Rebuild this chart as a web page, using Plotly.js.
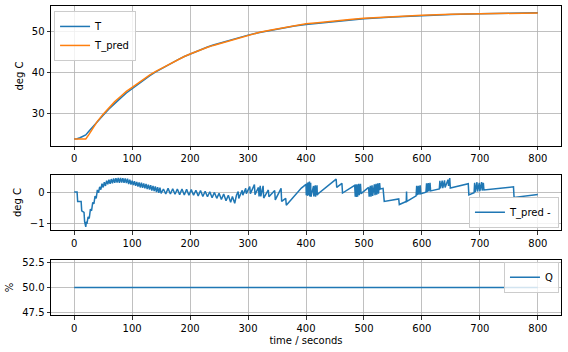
<!DOCTYPE html>
<html><head><meta charset="utf-8">
<script src="https://cdn.plot.ly/plotly-3.0.1.min.js"></script>
<style>html,body{margin:0;padding:0;background:#fff}</style>
</head><body><div id="chart" style="width:568px;height:352px"></div>
<script>
// ---- data ----
const tTop = [0,5,10,15,20,25,30,35,40,50,60,70,80,90,100,110,120,130,140,150,160,170,180,190,200,210,220,230,240,250,260,270,280,290,300,320,340,360,380,400,420,440,460,480,500,550,600,650,700,750,800];
const T = [23.9,23.95,24.2,24.5,24.9,25.7,26.55,27.4,28.2,29.7,31.2,32.6,33.85,35.1,36.2,37.3,38.3,39.3,40.2,41.0,41.8,42.6,43.3,44.0,44.6,45.2,45.8,46.3,46.8,47.2,47.7,48.1,48.5,48.85,49.2,49.85,50.4,50.9,51.4,51.8,52.1,52.4,52.7,52.95,53.2,53.6,53.95,54.2,54.4,54.5,54.65];
const T_pred = [23.9,23.9,23.9,23.9,23.9,24.9,26.0,27.2,28.2,29.95,31.5,33.0,34.25,35.5,36.5,37.55,38.5,39.45,40.3,41.05,41.85,42.6,43.3,44.0,44.6,45.2,45.75,46.25,46.7,47.1,47.55,47.95,48.4,48.85,49.25,49.9,50.45,50.95,51.5,51.95,52.2,52.55,52.85,53.1,53.3,53.7,54.05,54.3,54.45,54.6,54.6];

// residual T_pred - T : [time, value]
const errorSeries = [
 [0,0],[5,0],[6,-0.3],[12,-0.3],[13,-0.6],[17,-0.65],[18,-0.95],[20,-1.12],[21,-0.95],
 [22,-1.02],[24,-0.8],[26,-0.85],[28,-0.55],[30,-0.6],[32,-0.33],[34,-0.38],[36,-0.13],[38,-0.2],[40,0.07],
 [42,-0.02],[44,0.17],[46,0.08],[48,0.27],[50,0.15],[52,0.32],[54,0.2],[56,0.37],[58,0.25],[60,0.4],
 [62,0.27],[64,0.42],[66,0.28],[68,0.44],[70,0.3],[72,0.45],[74,0.31],[76,0.46],[78,0.3],[80,0.46],
 [82,0.31],[84,0.45],[86,0.3],[88,0.44],[90,0.29],[92,0.43],[94,0.26],[96,0.4],[98,0.24],[100,0.37],
 [102,0.23],[104,0.35],[106,0.2],[108,0.33],[110,0.18],[112,0.31],[114,0.15],[116,0.3],[118,0.14],[120,0.28],
 [122,0.12],[124,0.26],[126,0.1],[128,0.24],[130,0.08],[132,0.22],[134,0.05],[136,0.2],[138,0.03],[140,0.18],
 [142,0.0],[144,0.16],[146,-0.02],[148,0.14],[150,-0.04],
 [154,0.1],[158,-0.06],[162,0.12],[166,-0.06],[170,0.11],[174,-0.07],[178,0.1],[182,-0.08],[186,0.1],[190,-0.09],
 [194,0.09],[198,-0.1],[202,0.08],[206,-0.1],[210,0.06],[214,-0.12],[218,0.05],[222,-0.14],[226,0.03],[230,-0.15],
 [234,0.01],[238,-0.18],[242,-0.01],[246,-0.2],[250,-0.04],[254,-0.24],[258,-0.06],[262,-0.28],[266,-0.1],[270,-0.33],
 [273,-0.14],[277,-0.36],[280,-0.1],
 [283,0.02],[284,-0.2],[290,0.06],[291,-0.1],[296,0.12],[297,-0.05],[303,0.18],[304,-0.05],[311,0.24],[312,-0.08],
 [318,0.15],[319,-0.14],[321,0.2],[322,-0.14],[326,0.2],[327,-0.19],[335,0.07],[336,-0.15],[346,0.05],[347,-0.25],
 [357,0.12],[358,-0.3],[365,-0.2],[366,-0.42],[392,0.13],[400,0.25],[400.5,-0.1],[402,0.3],[402.5,-0.12],[404,0.32],
 [404.5,-0.1],[406,0.34],[406.5,-0.14],[408,0.3],[408.5,-0.15],[413,0.2],[413.5,-0.14],[416,0.22],[416.5,-0.15],[419,0.22],
 [419.5,-0.1],[421,-0.05],[452,0.42],[453,0.15],[462,0.28],[463,-0.03],[484,0.22],[485,-0.15],[486,0.24],[487,-0.16],
 [488,0.25],[489,-0.15],[491,0.27],[492,-0.1],[494,0.27],[495,-0.05],[508,0.15],[509,-0.15],[511,0.2],[512,-0.15],
 [514,0.22],[515,-0.12],[518,0.25],[519,-0.1],[521,0.27],[522,-0.08],[524,0.28],[525,-0.05],[527,0.29],[528,0.1],
 [533,0.12],[535,-0.3],[560,-0.22],[561,-0.4],[573,-0.3],[573.5,0.02],[574,-0.3],[590,-0.12],[591,0.2],[592,-0.1],
 [594,0.2],[595,-0.08],[597,0.22],[598,-0.05],[607,0.0],[608,0.28],[609,0.0],[611,0.29],[612,0.02],[614,0.3],
 [615,0.04],[630,0.1],[631,0.36],[632,0.12],[635,0.37],[636,0.13],[639,0.38],[640,0.15],[645,0.4],[646,0.2],
 [648,0.45],[649,0.13],[680,0.27],[681,-0.09],[690,-0.02],[691,0.3],[692,0.0],[695,0.32],[696,0.02],[699,0.3],
 [700,0.03],[703,0.32],[704,0.05],[706,0.3],[707,0.07],[758,0.17],[759,-0.17],[800,-0.08]
];
const errTime = errorSeries.map(p => p[0]);
const errValue = errorSeries.map(p => p[1]);

const tQ = [0, 800];
const Q = [50, 50];

const xTicks = [0,100,200,300,400,500,600,700,800];
const yTicksTop = [30,40,50];
const yTicksMid = [-1,0];
const yTicksBot = [47.5,50,52.5];

// ---- chart ----
const BLUE = '#1f77b4', ORANGE = '#ff7f0e';
const FONT = {family:'DejaVu Sans, sans-serif', size:10, color:'#000'};
const ax = {
  showline:true, mirror:true, linecolor:'#000', linewidth:1,
  ticks:'outside', ticklen:3.5, tickcolor:'#000', tickwidth:0.8,
  showgrid:true, gridcolor:'#b0b0b0', gridwidth:0.8, zeroline:false,
  tickfont:FONT, automargin:false
};
const xr = [-40, 840];

const traces = [
  {x:tTop, y:T, name:'T', mode:'lines', line:{color:BLUE, width:1.5}, xaxis:'x', yaxis:'y', legend:'legend'},
  {x:tTop, y:T_pred, name:'T_pred', mode:'lines', line:{color:ORANGE, width:1.5}, xaxis:'x', yaxis:'y', legend:'legend'},
  {x:errTime, y:errValue, name:'T_pred -', mode:'lines', line:{color:BLUE, width:1.5}, xaxis:'x2', yaxis:'y2', legend:'legend2'},
  {x:tQ, y:Q, name:'Q', mode:'lines', line:{color:BLUE, width:1.5}, xaxis:'x3', yaxis:'y3', legend:'legend3'}
];

const legendBase = {bgcolor:'rgba(255,255,255,0.8)', bordercolor:'#cccccc', borderwidth:1, font:FONT, traceorder:'normal', tracegroupgap:0};

const layout = {
  width:568, height:352,
  margin:{l:51, r:7, t:6, b:37},
  paper_bgcolor:'#fff', plot_bgcolor:'#fff',
  font:FONT,
  showlegend:true,
  xaxis: Object.assign({}, ax, {domain:[0,1], range:xr, tickvals:xTicks, anchor:'y'}),
  yaxis: Object.assign({}, ax, {domain:[0.547,1], range:[22.2,56.3], tickvals:yTicksTop, anchor:'x', title:{text:'deg C', font:FONT, standoff:6}}),
  xaxis2: Object.assign({}, ax, {domain:[0,1], range:xr, tickvals:xTicks, anchor:'y2'}),
  yaxis2: Object.assign({}, ax, {domain:[0.275,0.453], range:[-1.22,0.55], tickvals:yTicksMid, anchor:'x2', title:{text:'deg C', font:FONT, standoff:6}}),
  xaxis3: Object.assign({}, ax, {domain:[0,1], range:xr, tickvals:xTicks, anchor:'y3', title:{text:'time / seconds', font:FONT, standoff:4}}),
  yaxis3: Object.assign({}, ax, {domain:[0,0.178], range:[47.25,52.75], tickvals:yTicksBot, tickformat:'.1f', anchor:'x3', title:{text:'%', font:FONT, standoff:6}}),
  legend: Object.assign({}, legendBase, {x:0.006, y:0.984, xanchor:'left', yanchor:'top'}),
  legend2: Object.assign({}, legendBase, {x:0.996, y:0.282, xanchor:'right', yanchor:'bottom'}),
  legend3: Object.assign({}, legendBase, {x:0.996, y:0.172, xanchor:'right', yanchor:'top'})
};

Plotly.newPlot('chart', traces, layout, {staticPlot:true, displayModeBar:false});
</script>
</body></html>
